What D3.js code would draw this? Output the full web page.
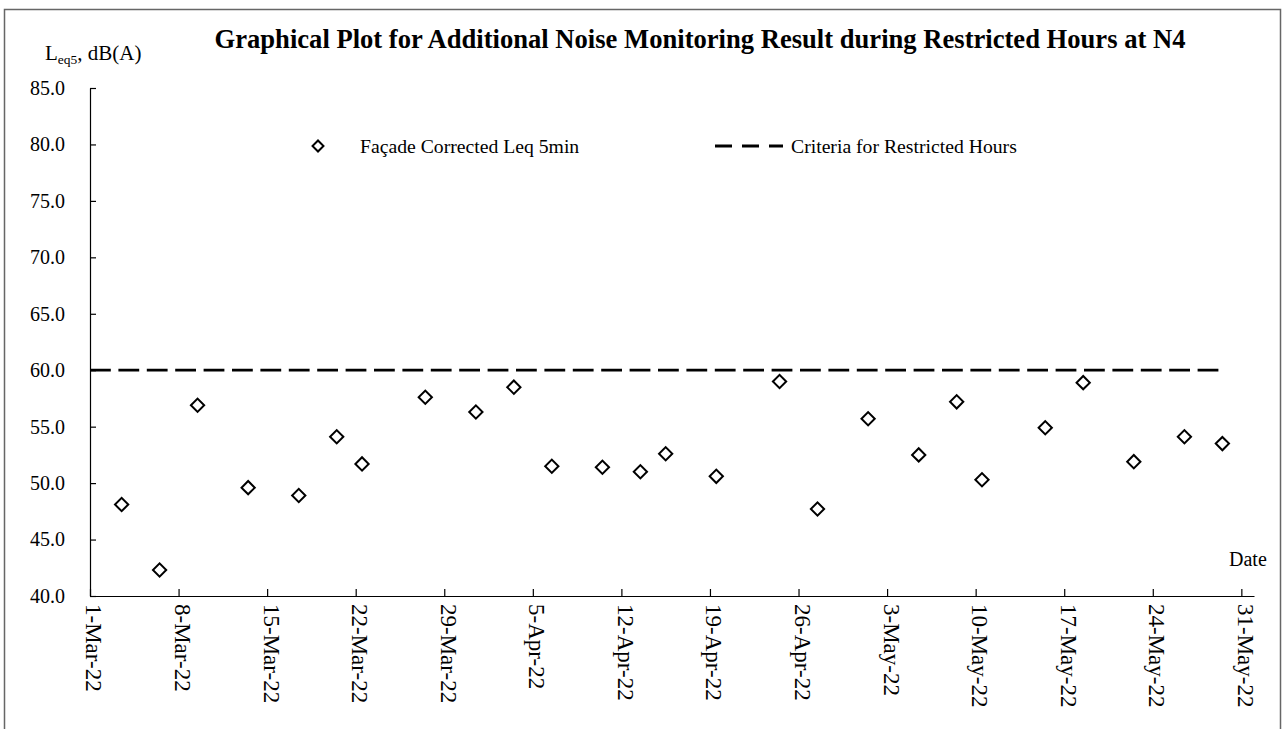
<!DOCTYPE html>
<html>
<head>
<meta charset="utf-8">
<script src="https://cdn.jsdelivr.net/npm/d3@7"></script>
<style>
    body { margin: 0; background: #fff; }
    text { font-family: "Liberation Serif", "Times New Roman", serif; fill: #000; }
</style>
</head>
<body>
<div id="graphContainer"></div>
<script>
"use strict";
// measured dates (evening periods, plotted at mid-day)
const sampleDates = [
    "2022-03-03 12:00", "2022-03-06 12:00", "2022-03-09 12:00", "2022-03-13 12:00",
    "2022-03-17 12:00", "2022-03-20 12:00", "2022-03-22 12:00", "2022-03-27 12:00",
    "2022-03-31 12:00", "2022-04-03 12:00", "2022-04-06 12:00", "2022-04-10 12:00",
    "2022-04-13 12:00", "2022-04-15 12:00", "2022-04-19 12:00", "2022-04-24 12:00",
    "2022-04-27 12:00", "2022-05-01 12:00", "2022-05-05 12:00", "2022-05-08 12:00",
    "2022-05-10 12:00", "2022-05-15 12:00", "2022-05-18 12:00", "2022-05-22 12:00",
    "2022-05-26 12:00", "2022-05-29 12:00"
]
const leqValues = [
    48.1, 42.3, 56.9, 49.6, 48.9, 54.1, 51.7, 57.6, 56.3, 58.5,
    51.5, 51.4, 51.0, 52.6, 50.6, 59.0, 47.7, 55.7, 52.5, 57.2,
    50.3, 54.9, 58.9, 51.9, 54.1, 53.5
]
const criteriaDates = ["2022-03-01 00:00", "2022-05-29 12:00"]
const criteriaValues = [60, 60]

const xTickLabels = [
    "2022-03-01", "2022-03-08", "2022-03-15", "2022-03-22", "2022-03-29",
    "2022-04-05", "2022-04-12", "2022-04-19", "2022-04-26", "2022-05-03",
    "2022-05-10", "2022-05-17", "2022-05-24", "2022-05-31"
]
const yTicks = [40, 45, 50, 55, 60, 65, 70, 75, 80, 85]
const xDomain = ["2022-03-01", "2022-06-01"]

const parseTime = d3.timeParse("%Y-%m-%d %H:%M")
const parseDay = d3.timeParse("%Y-%m-%d")

const measurements = {
    width: 1286,
    height: 729,
    left: 90,
    right: 1254,
    top: 88,
    bottom: 596
}

const svg = d3.select("#graphContainer").append("svg")
    .attr("width", measurements.width)
    .attr("height", measurements.height)

// outer chart frame
svg.append("rect")
    .attr("x", 4.5).attr("y", 9.5)
    .attr("width", 1276).attr("height", 800)
    .attr("fill", "none")
    .attr("stroke", "#666")
    .attr("stroke-width", 1.5)

const scaleX = d3.scaleTime()
    .domain(xDomain.map(parseDay))
    .range([measurements.left, measurements.right])

const scaleY = d3.scaleLinear()
    .domain([d3.min(yTicks), d3.max(yTicks)])
    .range([measurements.bottom, measurements.top])

// axes, ticks point inward like the excel original
const xAxis = d3.axisBottom(scaleX)
    .tickValues(xTickLabels.map(parseDay))
    .tickFormat(d3.timeFormat("%-d-%b-%y"))
    .tickSizeInner(-7)
    .tickSizeOuter(0)

const yAxis = d3.axisLeft(scaleY)
    .tickValues(yTicks)
    .tickFormat(d3.format(".1f"))
    .tickSizeInner(-6)
    .tickSizeOuter(0)
    .tickPadding(25)

const gx = svg.append("g")
    .attr("transform", `translate(0,${measurements.bottom})`)
    .call(xAxis)
gx.selectAll("text")
    .attr("transform", "rotate(90)")
    .attr("x", 8)
    .attr("y", -4)
    .attr("dy", "0.35em")
    .attr("text-anchor", "start")
    .style("font-size", "23px")

const gy = svg.append("g")
    .attr("transform", `translate(${measurements.left},0)`)
    .call(yAxis)
gy.selectAll("text").style("font-size", "20px")

svg.selectAll(".domain, .tick line")
    .attr("stroke", "#000")
    .attr("stroke-width", 1.2)

// criteria line
const criteria = criteriaDates.map((d, i) => ({ date: parseTime(d), value: criteriaValues[i] }))
const line = d3.line()
    .x(d => scaleX(d.date))
    .y(d => scaleY(d.value))

svg.append("path")
    .datum(criteria)
    .attr("d", line)
    .attr("fill", "none")
    .attr("stroke", "#000")
    .attr("stroke-width", 2.8)
    .attr("stroke-dasharray", "20.8,7.6")

// data points as open diamonds
const points = sampleDates.map((d, i) => ({ date: parseTime(d), value: leqValues[i] }))
const diamond = d3.symbol().type(d3.symbolSquare).size(88)

svg.selectAll(".pt")
    .data(points)
    .enter()
    .append("path")
    .attr("class", "pt")
    .attr("d", diamond)
    .attr("transform", d => `translate(${scaleX(d.date)},${scaleY(d.value)}) rotate(45)`)
    .attr("fill", "#fff")
    .attr("stroke", "#000")
    .attr("stroke-width", 2)

// title
svg.append("text")
    .attr("x", 700)
    .attr("y", 48)
    .attr("text-anchor", "middle")
    .style("font-size", "26.6px")
    .style("font-weight", "bold")
    .text("Graphical Plot for Additional Noise Monitoring Result during Restricted Hours at N4")

// y axis label with subscript
const yLabel = svg.append("text")
    .attr("x", 45)
    .attr("y", 60)
    .style("font-size", "21px")
yLabel.append("tspan").text("L")
yLabel.append("tspan").attr("dy", 4).style("font-size", "13.5px").text("eq5")
yLabel.append("tspan").attr("dy", -4).text(", dB(A)")

svg.append("text")
    .attr("x", 1229)
    .attr("y", 566)
    .style("font-size", "20px")
    .text("Date")

// legend
svg.append("path")
    .attr("d", d3.symbol().type(d3.symbolSquare).size(60))
    .attr("transform", "translate(318,146) rotate(45)")
    .attr("fill", "#fff")
    .attr("stroke", "#000")
    .attr("stroke-width", 2)
svg.append("text")
    .attr("x", 360)
    .attr("y", 153)
    .style("font-size", "19.7px")
    .text("Façade Corrected Leq 5min")

svg.append("line")
    .attr("x1", 715).attr("x2", 783)
    .attr("y1", 146).attr("y2", 146)
    .attr("stroke", "#000")
    .attr("stroke-width", 2.8)
    .attr("stroke-dasharray", "17,10")
svg.append("text")
    .attr("x", 791)
    .attr("y", 153)
    .style("font-size", "19.7px")
    .text("Criteria for Restricted Hours")
</script>
</body>
</html>
